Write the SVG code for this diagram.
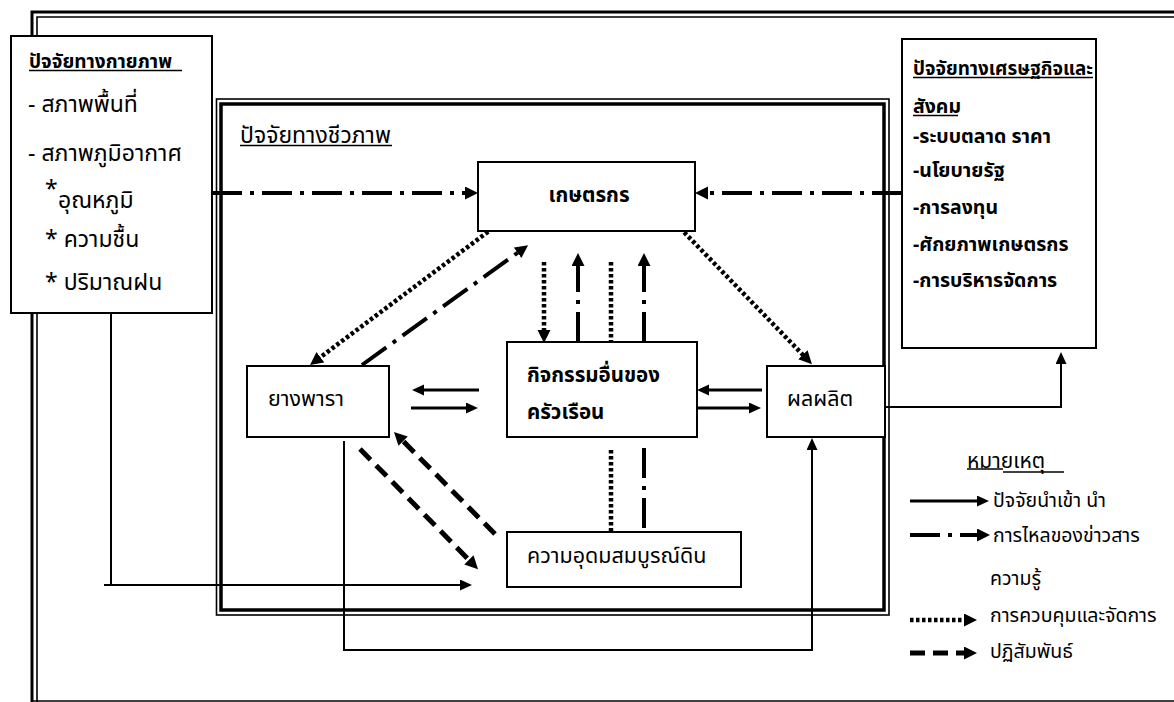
<svg xmlns="http://www.w3.org/2000/svg" width="1174" height="702" viewBox="0 0 1174 702">
  <style>
    text { font-family: "Noto Sans Thai", "Noto Sans", "DejaVu Sans", sans-serif; font-size: 21.5px; fill: #000; }
    .b { font-weight: bold; font-size: 20.5px; }
    .side { font-size: 23px; }
    .eco { font-weight: bold; font-size: 19.5px; }
    .lg { font-size: 19.5px; }
    .box { fill: #fff; stroke: #000; stroke-width: 2; }
    .ul { stroke: #000; stroke-width: 1.3; }
    .frame { fill: none; stroke: #000; }
    .solid { fill: none; stroke: #000; stroke-width: 3; }
    .thin { fill: none; stroke: #000; stroke-width: 2; }
    .dashdot { fill: none; stroke: #000; stroke-width: 4; stroke-dasharray: 30 8 4 8; }
    .dotted { fill: none; stroke: #000; stroke-width: 4.5; stroke-dasharray: 3.5 2.5; }
    .dashed { fill: none; stroke: #000; stroke-width: 5; stroke-dasharray: 15 8; }
  </style>
  <defs>
    <marker id="ah" markerUnits="userSpaceOnUse" markerWidth="14" markerHeight="14" refX="3" refY="6.5" orient="auto">
      <path d="M0,0 L13,6.5 L0,13 z" fill="#000"/>
    </marker>
    <marker id="ahs" markerUnits="userSpaceOnUse" markerWidth="14" markerHeight="12" refX="3" refY="5.5" orient="auto">
      <path d="M0,0 L12,5.5 L0,11 z" fill="#000"/>
    </marker>
  </defs>

  <rect width="1174" height="702" fill="#fff"/>

  <!-- page border (thick-thin) -->
  <g id="page-border">
    <path class="frame" stroke-width="3" d="M32,702 V12 H1180"/>
    <path class="frame" stroke-width="1.6" d="M37,702 V17 H1180"/>
    <path class="frame" stroke-width="1.6" d="M32,701 H1180"/>
  </g>

  <!-- biological factors frame (thin-thick) -->
  <g id="bio-frame">
    <rect class="frame" stroke-width="1.6" x="216.5" y="99" width="672.5" height="516"/>
    <rect class="frame" stroke-width="3.5" x="221" y="104" width="663" height="506"/>
    <text class="side" x="240" y="143">ปัจจัยทางชีวภาพ</text>
    <line class="ul" x1="240" y1="145.5" x2="392" y2="145.5"/>
  </g>

  <!-- connectors -->
  <g id="connectors">
    <!-- information flow into farmer -->
    <path class="dashdot" d="M212,193 H468" marker-end="url(#ah)"/>
    <path class="dashdot" d="M902,193 H705" marker-end="url(#ah)"/>
    <!-- farmer <-> rubber -->
    <path class="dotted" d="M493,228 L318,359" marker-end="url(#ah)"/>
    <path class="dashdot" d="M362,365 L520,251" marker-end="url(#ah)"/>
    <!-- farmer <-> household activities -->
    <path class="dotted" d="M544,262 V333" marker-end="url(#ah)"/>
    <path class="dashdot" d="M578,342 V263" marker-end="url(#ah)"/>
    <path class="dotted" stroke-width="3.5" d="M611,262 V342"/>
    <path class="dashdot" d="M644,342 V263" marker-end="url(#ah)"/>
    <!-- farmer -> produce -->
    <path class="dotted" d="M680,228 L805,357" marker-end="url(#ah)"/>
    <!-- rubber <-> household -->
    <path class="solid" d="M479,390 H421" marker-end="url(#ahs)"/>
    <path class="solid" d="M411,408 H469" marker-end="url(#ahs)"/>
    <!-- household <-> produce -->
    <path class="solid" d="M762,390 H706" marker-end="url(#ahs)"/>
    <path class="solid" d="M697,408 H752" marker-end="url(#ahs)"/>
    <!-- household -> soil -->
    <path class="dotted" d="M611,450 V538" marker-end="url(#ah)"/>
    <path class="dashdot" stroke-dasharray="4 8 30 8" d="M644,448 V542"/>
    <!-- rubber <-> soil -->
    <path class="dashed" d="M360,449 L471,562" marker-end="url(#ah)"/>
    <path class="dashed" d="M495,534 L401,439" marker-end="url(#ah)"/>
    <!-- physical factors -> soil -->
    <path class="thin" d="M111,313 V585 M104,585 H463" marker-end="url(#ahs)"/>
    <!-- rubber -> produce -->
    <path class="thin" d="M344,441 V650 H812 V447" marker-end="url(#ahs)"/>
    <!-- produce -> economic factors -->
    <path class="thin" stroke-width="2.5" d="M885,407 H1061 V361" marker-end="url(#ahs)"/>
  </g>

  <!-- physical factors -->
  <g id="physical">
    <rect class="box" x="11" y="36" width="201" height="277"/>
    <text class="b" x="29" y="68" style="font-size:19.5px" textLength="143" lengthAdjust="spacingAndGlyphs">ปัจจัยทางกายภาพ</text>
    <line class="ul" x1="29" y1="70.5" x2="182" y2="70.5"/>
    <text class="side" x="28" y="112">- สภาพพื้นที่</text>
    <text class="side" x="28" y="161">- สภาพภูมิอากาศ</text>
    <text class="side" x="45" y="197">*</text>
    <text class="side" x="58" y="208">อุณหภูมิ</text>
    <text class="side" x="45" y="247">* ความชื้น</text>
    <text class="side" x="45" y="290">* ปริมาณฝน</text>
  </g>

  <!-- economic and social factors -->
  <g id="economic">
    <rect class="box" x="902" y="39" width="194" height="309"/>
    <text class="eco" x="913" y="75" textLength="180" lengthAdjust="spacingAndGlyphs">ปัจจัยทางเศรษฐกิจและ</text>
    <line class="ul" x1="913" y1="77.5" x2="1093" y2="77.5"/>
    <text class="eco" x="913" y="113">สังคม</text>
    <line class="ul" x1="913" y1="115.5" x2="958" y2="115.5"/>
    <text class="eco" x="913" y="143">-ระบบตลาด ราคา</text>
    <text class="eco" x="913" y="177">-นโยบายรัฐ</text>
    <text class="eco" x="913" y="214">-การลงทุน</text>
    <text class="eco" x="913" y="251">-ศักยภาพเกษตรกร</text>
    <text class="eco" x="913" y="287">-การบริหารจัดการ</text>
  </g>

  <g id="farmer">
    <rect class="box" x="478" y="162" width="217" height="69"/>
    <text class="b" x="589" y="202" text-anchor="middle">เกษตรกร</text>
  </g>

  <g id="household">
    <rect class="box" x="507" y="342" width="190" height="95"/>
    <text class="b" x="527" y="382">กิจกรรมอื่นของ</text>
    <text class="b" x="527" y="419">ครัวเรือน</text>
  </g>

  <g id="rubber">
    <rect class="box" x="247" y="366" width="142" height="71"/>
    <text x="268" y="406">ยางพารา</text>
  </g>

  <g id="produce">
    <rect class="box" x="767" y="366" width="118" height="71"/>
    <text x="787" y="406">ผลผลิต</text>
  </g>

  <g id="soil">
    <rect class="box" x="507" y="532" width="234" height="55"/>
    <text x="527" y="563">ความอุดมสมบูรณ์ดิน</text>
  </g>

  <!-- legend -->
  <g id="legend">
    <text class="lg" x="967" y="468" style="font-size:21px">หมายเหตุ</text>
    <line class="ul" x1="967" y1="469" x2="1003" y2="469"/>
    <line class="ul" x1="1003" y1="472" x2="1064" y2="472"/>
    <path class="solid" d="M910,501 H980" marker-end="url(#ahs)"/>
    <text class="lg" x="993" y="507">ปัจจัยนำเข้า นำ</text>
    <path class="dashdot" stroke-width="4.5" stroke-dasharray="30 8 5 6 21 0" d="M910,535 H980" marker-end="url(#ah)"/>
    <text class="lg" x="993" y="542">การไหลของข่าวสาร</text>
    <text class="lg" x="990" y="585">ความรู้</text>
    <path class="dotted" d="M910,620 H967" marker-end="url(#ah)"/>
    <text class="lg" x="990" y="622">การควบคุมและจัดการ</text>
    <path class="dashed" stroke-dasharray="17 8" d="M910,653 H967" marker-end="url(#ah)"/>
    <text class="lg" x="990" y="658">ปฏิสัมพันธ์</text>
  </g>
</svg>
